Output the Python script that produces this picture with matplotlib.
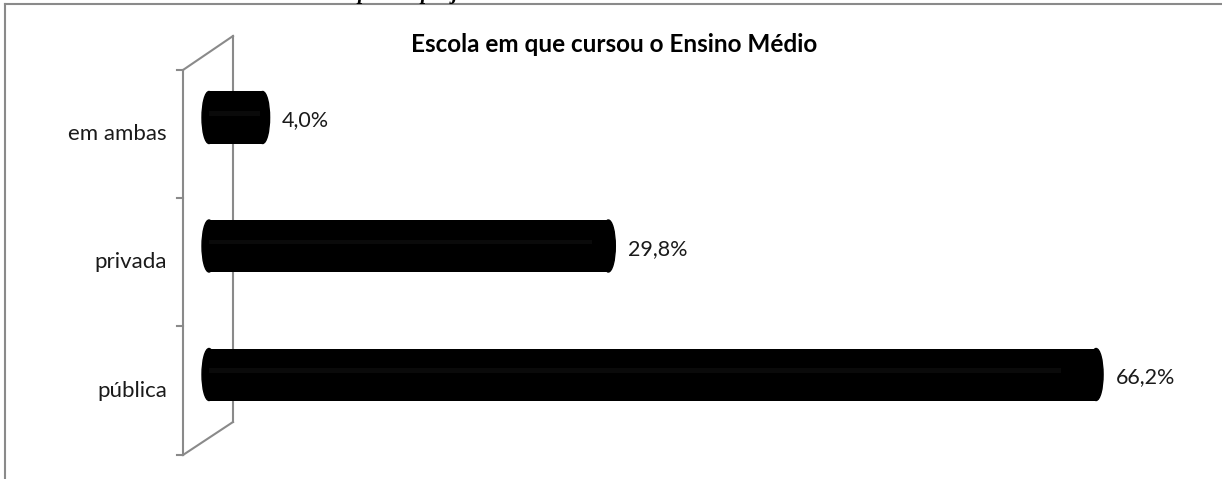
import matplotlib.pyplot as plt
from matplotlib.patches import Ellipse
from matplotlib.lines import Line2D

plt.rcParams['font.family'] = ['Lato', 'DejaVu Sans']

categorias = ["pública", "privada", "em ambas"]
valores = [66.2, 29.8, 4.0]
rotulos = ["66,2%", "29,8%", "4,0%"]
titulo = "Escola em que cursou o Ensino Médio"

W, H = 1222, 479
fig = plt.figure(figsize=(W / 100, H / 100), dpi=100)

# axes box in pixels (left, top, right, bottom)
L, T, R, B = 183, 36, 1200, 458
ax = fig.add_axes([L / W, 1 - B / H, (R - L) / W, (B - T) / H])
x0, sx = 209, 13.4          # pixel of zero, pixels per percent
y0, sy = 374.5, 128.5       # pixel of first bar centre, spacing
ax.set_xlim((L - x0) / sx, (R - x0) / sx)
ax.set_ylim((y0 - B) / sy, (y0 - T) / sy)
ax.axis('off')

grey = '#8a8a8a'
pos = list(range(len(categorias)))
h = 52 / sy
cap = 14 / sx
ax.barh(pos, valores, height=h, color='black', zorder=3)
ax.barh([p + 0.03 for p in pos], [v * 0.96 for v in valores], height=0.035,
        color='#0a0a0a', zorder=4)
for p, v, lab in zip(pos, valores, rotulos):
    ax.add_patch(Ellipse((0, p), cap, h, color='black', zorder=3))
    ax.add_patch(Ellipse((v, p), cap, h, color='black', zorder=3))
    ax.annotate(lab, (v + cap / 2, p), xytext=(9, -2), textcoords='offset points',
                ha='left', va='center', fontsize=15.5, color='#1a1a1a')

# category labels at the front of the 3D frame
for p, c in zip(pos, categorias):
    ax.text((167 - x0) / sx, p - 16.5 / sy, c, ha='right', va='center',
            fontsize=16, color='#1a1a1a')


def px(x, y):
    return ((x - L) / (R - L), (B - y) / (B - T))


def seg(a, b):
    (xa, ya), (xb, yb) = px(*a), px(*b)
    ax.add_line(Line2D([xa, xb], [ya, yb], transform=ax.transAxes, color=grey,
                       lw=1.5, clip_on=False, zorder=1))


# 3D wall frame
seg((183, 70), (183, 455))
seg((233, 36), (233, 422))
seg((183, 70), (233, 36))
seg((183, 455), (233, 422))
for ty in [70, 198, 326, 455]:
    seg((177, ty), (183, ty))

ax.text((614 - L) / (R - L), (B - 44) / (B - T), titulo, transform=ax.transAxes,
        fontsize=17.5, fontweight='bold', color='black', ha='center', va='center')

# outer border of the chart area
fig.add_artist(Line2D([5 / W, 1], [1 - 4 / H, 1 - 4 / H], color=grey, lw=1.5))
fig.add_artist(Line2D([5 / W, 5 / W], [0, 1 - 4 / H], color=grey, lw=1.5))

# fragments of the text above the chart (cut off as in the page)
for x, ch in [(357, "p"), (420, "p"), (452, "j")]:
    fig.text(x / W, 1 + 1 / H, ch, fontsize=15, fontweight='bold', fontstyle='italic',
             family='Liberation Serif', va='baseline', ha='left')

fig.savefig('out.png', dpi=100)
